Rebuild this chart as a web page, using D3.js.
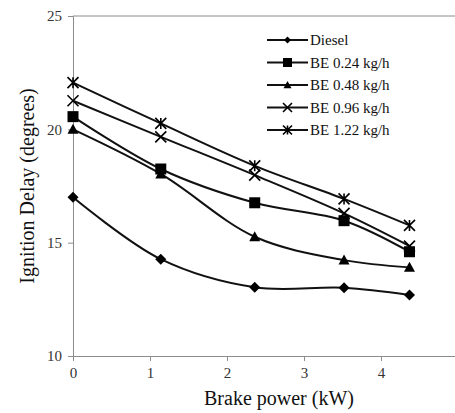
<!DOCTYPE html>
<html>
<head>
<meta charset="utf-8">
<script src="https://cdn.jsdelivr.net/npm/d3@7/dist/d3.min.js"></script>
<style>
  html, body { margin: 0; padding: 0; background: #fff; }
  svg { display: block; }
  svg text { font-family: "Liberation Serif", "Times New Roman", serif; }
</style>
</head>
<body>
<svg id="chart" width="455" height="413"></svg>
<script>
// Brake power (kW) at each load step
const brakePower = [0, 1.14, 2.36, 3.52, 4.37];

// Ignition delay (degrees) per fuel
const diesel = [17.0, 14.27, 13.03, 13.01, 12.69];
const be024  = [20.56, 18.25, 16.76, 15.97, 14.6];
const be048  = [20.0, 18.03, 15.26, 14.23, 13.91];
const be096  = [21.26, 19.67, 17.98, 16.29, 14.85];
const be122  = [22.06, 20.26, 18.39, 16.93, 15.76];

const seriesNames = ["Diesel", "BE 0.24 kg/h", "BE 0.48 kg/h", "BE 0.96 kg/h", "BE 1.22 kg/h"];
const seriesValues = [diesel, be024, be048, be096, be122];
const markerKinds = ["diamond", "square", "triangle", "cross", "star"];

const xTicks = [0, 1, 2, 3, 4, 5];
const yTicks = [10, 15, 20, 25];

const svg = d3.select("#chart");
const plotLeft = 73, plotRight = 458, plotTop = 16, plotBottom = 356;
const serif = "'Liberation Serif', 'Times New Roman', serif";

const x = d3.scaleLinear().domain([0, 5]).range([plotLeft, plotRight]);
const y = d3.scaleLinear().domain([10, 25]).range([plotBottom, plotTop]);

const axisColor = "#8c8c8c";

// plot frame top edge
svg.append("line")
  .attr("x1", plotLeft).attr("x2", plotRight)
  .attr("y1", plotTop).attr("y2", plotTop)
  .attr("stroke", axisColor).attr("stroke-width", 1);

// axes
const xAxis = svg.append("g")
  .attr("transform", `translate(0,${plotBottom})`)
  .call(d3.axisBottom(x).tickValues(xTicks).tickSize(5).tickPadding(6).tickFormat(d3.format("d")));
const yAxis = svg.append("g")
  .attr("transform", `translate(${plotLeft},0)`)
  .call(d3.axisLeft(y).tickValues(yTicks).tickSize(5).tickPadding(6).tickFormat(d3.format("d")));

[xAxis, yAxis].forEach(g => {
  g.attr("font-family", serif).attr("font-size", 15);
  g.select(".domain").attr("stroke", axisColor);
  g.selectAll(".tick line").attr("stroke", axisColor);
  g.selectAll(".tick text").attr("fill", "#333");
});

// axis titles
svg.append("text")
  .attr("x", 279).attr("y", 405)
  .attr("text-anchor", "middle")
  .attr("font-family", serif).attr("font-size", 20).attr("fill", "#111")
  .text("Brake power (kW)");

svg.append("text")
  .attr("transform", `translate(34,${(plotTop + plotBottom) / 2}) rotate(-90)`)
  .attr("text-anchor", "middle")
  .attr("font-family", serif).attr("font-size", 20).attr("fill", "#111")
  .text("Ignition Delay (degrees)");

// marker drawing
function drawMarker(g, kind, cx, cy, s) {
  const h = s / 2;
  if (kind === "diamond") {
    g.append("path")
      .attr("d", `M${cx},${cy - h}L${cx + h},${cy}L${cx},${cy + h}L${cx - h},${cy}Z`)
      .attr("fill", "#000");
  } else if (kind === "square") {
    g.append("rect")
      .attr("x", cx - h).attr("y", cy - h).attr("width", s).attr("height", s)
      .attr("fill", "#000");
  } else if (kind === "triangle") {
    g.append("path")
      .attr("d", `M${cx},${cy - h}L${cx + h},${cy + h * 0.8}L${cx - h},${cy + h * 0.8}Z`)
      .attr("fill", "#000");
  } else if (kind === "cross") {
    g.append("path")
      .attr("d", `M${cx - h},${cy - h}L${cx + h},${cy + h}M${cx - h},${cy + h}L${cx + h},${cy - h}`)
      .attr("stroke", "#000").attr("stroke-width", 1.6).attr("fill", "none");
  } else if (kind === "star") {
    g.append("path")
      .attr("d", `M${cx - h},${cy - h}L${cx + h},${cy + h}M${cx - h},${cy + h}L${cx + h},${cy - h}M${cx},${cy - h}L${cx},${cy + h}`)
      .attr("stroke", "#000").attr("stroke-width", 1.6).attr("fill", "none");
  }
}

const line = d3.line()
  .x((d, i) => x(brakePower[i]))
  .y(d => y(d))
  .curve(d3.curveCatmullRom.alpha(0.5));

const plot = svg.append("g");
seriesValues.forEach(vals => {
  plot.append("path")
    .attr("d", line(vals))
    .attr("fill", "none")
    .attr("stroke", "#111")
    .attr("stroke-width", 2);
});
seriesValues.forEach((vals, k) => {
  const g = plot.append("g");
  vals.forEach((v, i) => drawMarker(g, markerKinds[k], x(brakePower[i]), y(v), 11));
});

// legend
const legend = svg.append("g");
const legendRows = [40, 62.5, 85, 107.5, 130];
const legendSizes = [7, 9, 8, 9, 9];
seriesNames.forEach((name, k) => {
  const ly = legendRows[k];
  legend.append("line")
    .attr("x1", 267).attr("x2", 308).attr("y1", ly).attr("y2", ly)
    .attr("stroke", "#111").attr("stroke-width", 2);
  drawMarker(legend, markerKinds[k], 287.5, ly, legendSizes[k]);
  legend.append("text")
    .attr("x", 310).attr("y", ly + 5)
    .attr("font-family", serif).attr("font-size", 15).attr("fill", "#111")
    .text(name);
});
</script>
</body>
</html>
